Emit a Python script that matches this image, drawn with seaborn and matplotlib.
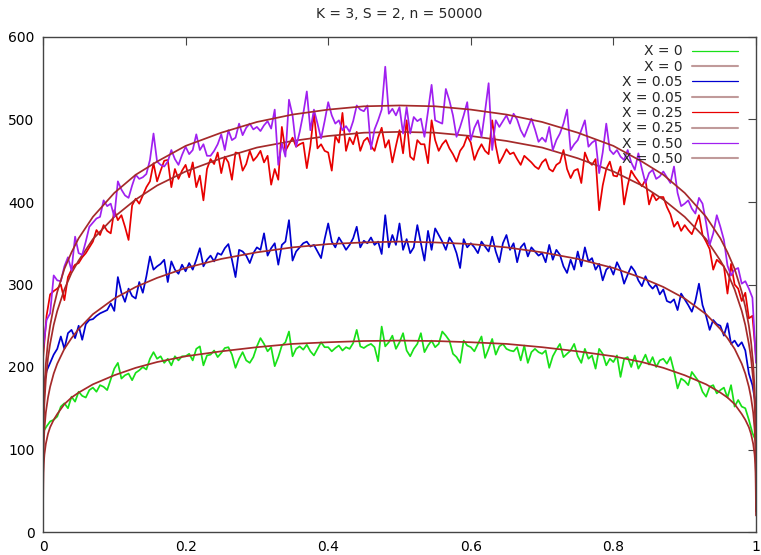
import numpy as np
import matplotlib
matplotlib.use("Agg")
import matplotlib.pyplot as plt
import seaborn as sns

# simulated counts, sampled every 0.005 on [0, 1]
green_x0 = [
    121, 128, 134, 136, 140, 152, 156, 150, 164, 158, 170, 165, 163, 172, 175, 170, 178, 176, 172, 185,
    198, 205, 186, 190, 192, 184, 193, 196, 200, 197, 210, 218, 210, 213, 205, 210, 202, 213, 208, 213,
    213, 216, 208, 222, 225, 202, 214, 215, 220, 212, 217, 223, 224, 215, 199, 210, 218, 208, 205, 212,
    225, 235, 228, 219, 224, 201, 212, 226, 230, 243, 213, 222, 225, 221, 227, 219, 214, 222, 230, 224,
    224, 219, 223, 226, 220, 224, 222, 229, 245, 225, 223, 226, 228, 224, 207, 249, 225, 230, 238, 222,
    230, 241, 220, 213, 222, 228, 241, 218, 226, 232, 224, 228, 243, 238, 232, 216, 212, 205, 232, 226,
    224, 219, 228, 237, 211, 222, 234, 215, 225, 228, 222, 220, 219, 224, 208, 226, 205, 218, 222, 218,
    216, 220, 199, 213, 221, 228, 212, 216, 220, 228, 213, 205, 222, 210, 214, 198, 222, 216, 202, 210,
    206, 214, 188, 210, 212, 200, 214, 198, 206, 215, 203, 212, 200, 208, 210, 204, 212, 195, 174, 186,
    183, 178, 194, 188, 182, 170, 164, 176, 178, 168, 172, 175, 163, 178, 152, 160, 152, 150, 136, 120,
    110]

blue_x005 = [
    172, 195, 205, 215, 222, 237, 222, 241, 245, 235, 250, 233, 252, 257, 258, 262, 265, 267, 269, 277,
    268, 309, 290, 279, 295, 286, 283, 303, 290, 310, 334, 318, 322, 325, 330, 303, 328, 318, 313, 324,
    316, 326, 318, 330, 344, 322, 330, 335, 328, 338, 336, 344, 349, 330, 309, 342, 340, 335, 326, 338,
    345, 342, 362, 335, 344, 350, 324, 348, 352, 378, 329, 340, 345, 350, 352, 346, 348, 340, 332, 355,
    374, 352, 345, 357, 350, 342, 348, 356, 370, 345, 353, 350, 357, 348, 352, 337, 384, 345, 360, 348,
    374, 342, 355, 338, 345, 372, 350, 329, 365, 342, 368, 360, 352, 342, 357, 350, 338, 320, 355, 345,
    350, 345, 338, 352, 346, 340, 358, 340, 327, 350, 360, 342, 350, 327, 345, 350, 334, 345, 340, 335,
    338, 327, 348, 330, 342, 336, 322, 314, 330, 318, 340, 322, 345, 328, 332, 318, 325, 305, 318, 322,
    312, 327, 318, 301, 312, 322, 316, 305, 298, 310, 300, 295, 300, 288, 294, 280, 278, 282, 269, 289,
    282, 275, 267, 280, 301, 275, 262, 245, 257, 252, 250, 238, 253, 228, 232, 225, 230, 220, 192, 178,
    152]

red_x025 = [
    210, 262, 288, 292, 295, 300, 281, 309, 318, 324, 326, 333, 338, 345, 352, 366, 360, 372, 365, 362,
    390, 378, 384, 370, 354, 396, 404, 398, 408, 418, 425, 447, 425, 438, 450, 451, 418, 440, 428, 438,
    445, 430, 448, 418, 432, 402, 440, 452, 446, 460, 435, 455, 448, 427, 460, 459, 438, 446, 462, 450,
    455, 462, 448, 456, 421, 440, 427, 491, 462, 470, 478, 467, 470, 472, 441, 468, 508, 465, 470, 462,
    460, 438, 480, 472, 508, 462, 478, 470, 485, 462, 474, 478, 468, 462, 478, 490, 466, 475, 448, 468,
    487, 459, 499, 455, 451, 475, 470, 470, 447, 499, 475, 462, 470, 475, 465, 458, 449, 462, 468, 480,
    472, 451, 462, 470, 462, 458, 499, 468, 447, 455, 464, 458, 460, 452, 445, 456, 452, 448, 443, 440,
    448, 452, 440, 437, 445, 448, 463, 440, 429, 438, 440, 423, 460, 449, 445, 452, 390, 420, 440, 449,
    432, 431, 443, 397, 420, 438, 431, 425, 419, 427, 397, 410, 402, 406, 406, 394, 385, 370, 376, 365,
    372, 366, 361, 372, 384, 360, 352, 343, 318, 330, 326, 322, 289, 325, 300, 295, 280, 290, 259, 262,
    212]

purple_x050 = [
    220, 257, 265, 311, 305, 304, 322, 333, 317, 358, 338, 336, 352, 370, 375, 380, 382, 402, 395, 398,
    382, 425, 415, 408, 405, 420, 433, 428, 430, 434, 451, 483, 449, 445, 443, 449, 463, 452, 445, 457,
    467, 458, 463, 482, 463, 470, 456, 456, 462, 470, 482, 463, 487, 475, 478, 495, 481, 490, 495, 488,
    491, 486, 493, 498, 489, 512, 445, 471, 455, 524, 505, 467, 485, 507, 534, 487, 512, 495, 477, 498,
    521, 505, 495, 499, 487, 492, 485, 498, 517, 512, 510, 517, 464, 488, 499, 512, 564, 507, 513, 505,
    515, 483, 515, 483, 503, 498, 501, 479, 510, 542, 499, 497, 495, 537, 523, 505, 479, 491, 505, 521,
    475, 490, 499, 479, 510, 544, 463, 499, 491, 498, 505, 495, 507, 500, 487, 479, 490, 501, 488, 473,
    478, 473, 491, 463, 475, 483, 495, 512, 463, 470, 475, 487, 499, 467, 472, 475, 435, 460, 495, 463,
    458, 463, 455, 451, 463, 448, 439, 459, 440, 423, 435, 439, 428, 431, 437, 430, 423, 443, 411, 395,
    398, 402, 392, 386, 405, 398, 375, 348, 362, 384, 370, 354, 323, 311, 318, 320, 301, 304, 295, 284,
    205]

# theoretical curves, read at uneven positions (denser near the ends)
fit_x = [0, 0.0005, 0.001, 0.002, 0.004, 0.007, 0.01, 0.015, 0.02, 0.03, 0.04, 0.05, 0.07,
         0.1, 0.13, 0.16, 0.2, 0.25, 0.3, 0.35, 0.4, 0.45, 0.5, 0.55, 0.6, 0.65, 0.7, 0.75,
         0.8, 0.84, 0.87, 0.9, 0.93, 0.95, 0.96, 0.97, 0.98, 0.985, 0.99, 0.993, 0.996,
         0.998, 0.999, 0.9995, 1.0]
fit_x0 = [20, 72, 82, 94, 107, 119, 127, 136, 143, 155, 163, 169, 179, 190, 199, 206, 213,
          219, 224, 228, 230, 231.5, 232, 231.5, 230, 228, 224, 219, 213, 206, 199, 190, 179,
          169, 163, 155, 143, 136, 127, 119, 107, 94, 82, 72, 20]
fit_x005 = [25, 93, 107, 125, 145, 163, 176, 192, 204, 222, 235, 246, 264, 283, 297, 308, 320,
            331, 339, 345, 349, 351, 352, 351, 349, 345, 339, 331, 320, 308, 297, 283, 264,
            246, 235, 222, 204, 192, 176, 163, 145, 125, 107, 93, 25]
fit_x025 = [28, 114, 134, 157, 185, 211, 228, 251, 268, 294, 314, 329, 355, 382, 403, 420, 437,
            453, 466, 474, 480, 484, 485, 484, 480, 474, 466, 453, 437, 420, 403, 382, 355,
            329, 314, 294, 268, 251, 228, 211, 185, 157, 134, 114, 28]
fit_x050 = [30, 128, 149, 174, 204, 231, 250, 273, 291, 319, 339, 356, 382, 411, 433, 449, 468,
            484, 497, 506, 512, 516, 517, 516, 512, 506, 497, 484, 468, 449, 433, 411, 382,
            356, 339, 319, 291, 273, 250, 231, 204, 174, 149, 128, 30]

labels = ['X = 0', 'X = 0.05', 'X = 0.25', 'X = 0.50']
x_ticks = [0, 0.2, 0.4, 0.6, 0.8, 1]
x_ticklabels = ['0', '0.2', '0.4', '0.6', '0.8', '1']
y_ticks = [0, 100, 200, 300, 400, 500, 600]

sim_x = np.arange(len(green_x0)) * 0.005

sns.set_style("white")
plt.rcParams['font.family'] = ['DejaVu Sans']

fig = plt.figure(figsize=(7.61, 5.55), dpi=100)
ax = fig.add_axes([43 / 761, 1 - 532 / 555, 713 / 761, 495 / 555])

colors = ['#18e018', '#0000d0', '#e80000', '#a020f0']
brown = '#a52a2a'
sims = [green_x0, blue_x005, red_x025, purple_x050]
fits = [fit_x0, fit_x005, fit_x025, fit_x050]

for lab, col, sim, fit in zip(labels, colors, sims, fits):
    sns.lineplot(x=sim_x, y=sim, color=col, lw=1.25, label=lab, ax=ax,
                 sort=False, estimator=None)
    sns.lineplot(x=fit_x, y=fit, color=brown, lw=1.25, label=lab, ax=ax,
                 sort=False, estimator=None)

ax.set_xlim(0, 1)
ax.set_ylim(0, 600)
ax.set_xticks(x_ticks)
ax.set_xticklabels(x_ticklabels)
ax.set_yticks(y_ticks)
ax.tick_params(direction='in', top=True, right=True, length=6, width=0.8,
               color='#444444', labelsize=10, pad=6, labelcolor='black')
for sp in ax.spines.values():
    sp.set_color('#444444')
    sp.set_linewidth(1.0)

ax.set_title('K = 3, S = 2, n = 50000', fontsize=10, pad=14)

leg = ax.legend(loc='upper right', bbox_to_anchor=(0.975, 0.985), frameon=False,
                markerfirst=False, handlelength=3.3, handletextpad=0.7,
                labelspacing=0.1, borderpad=0, borderaxespad=0, fontsize=10)
# legend keys: thin coloured lines, lighter brown for the fitted curves
for i, h in enumerate(leg.get_lines()):
    if i % 2:
        h.set_color('#c09a9a')
        h.set_linewidth(1.5)
    else:
        h.set_linewidth(0.9)

fig.savefig('out.png', dpi=100)
